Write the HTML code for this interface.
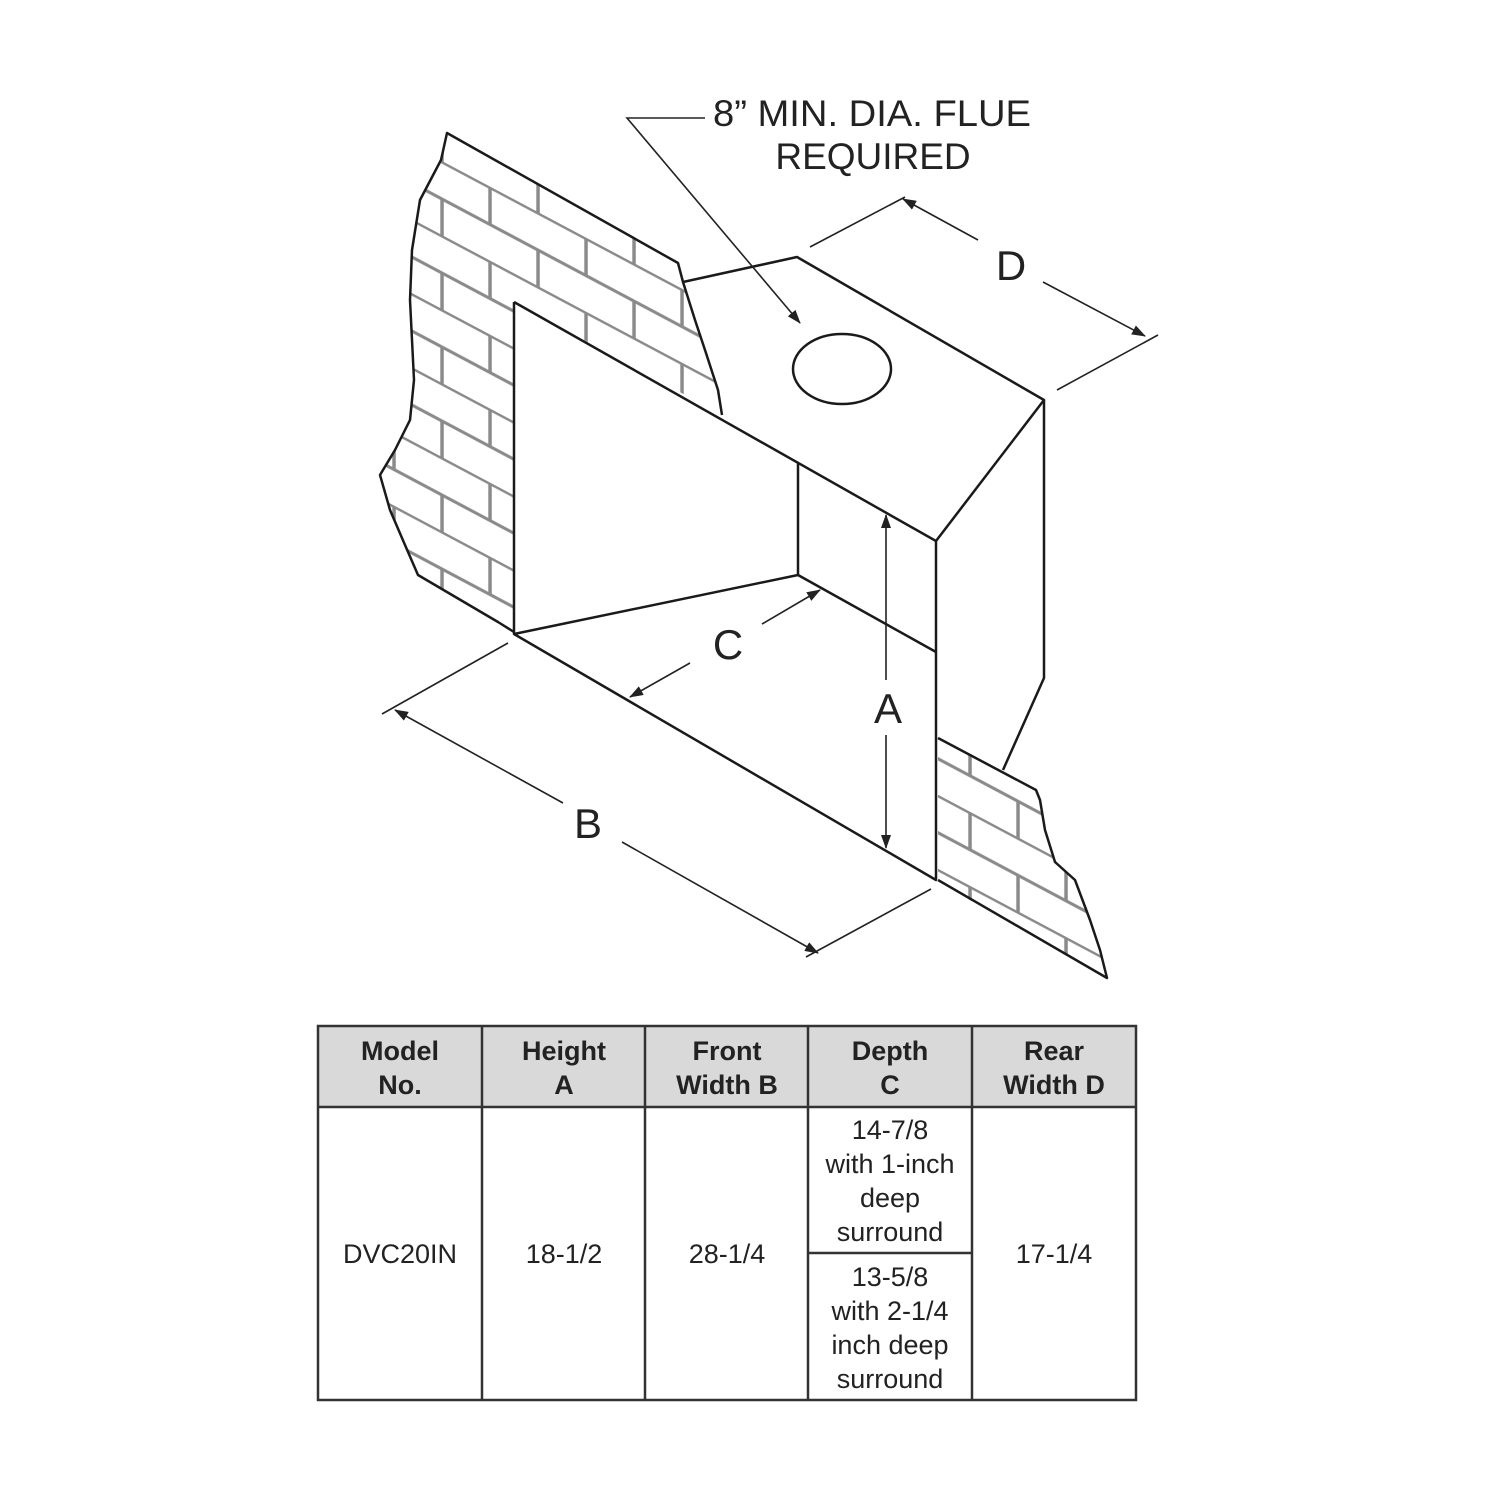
<!DOCTYPE html>
<html><head><style>
body{margin:0;background:#fff;}
svg{display:block}
</style></head><body>
<svg width="1500" height="1500" viewBox="0 0 1500 1500" xmlns="http://www.w3.org/2000/svg">
<defs>
<pattern id="brick" patternUnits="userSpaceOnUse" width="96" height="74" patternTransform="skewY(28)">
<g stroke="#8a8a8a" stroke-width="3.5" fill="none">
<line x1="0" y1="1" x2="96" y2="1"/><line x1="0" y1="38" x2="96" y2="38"/>
<line x1="10" y1="1" x2="10" y2="38"/><line x1="58" y1="38" x2="58" y2="74"/>
</g>
</pattern>
<clipPath id="lw"><path d="M447,133 L678,263 L683,282 L695,320 L705,350 L718,390 L722,415 L514,302 L514,632 L498,622 L418,575 L405,545 L390,510 L380,475 L395,450 L410,420 L414,380 L410,300 L412,250 L420,200 L441,160 Z"/></clipPath>
<clipPath id="rw"><path d="M938,738 L1036,790 L1040,800 L1045,830 L1055,862 L1075,880 L1090,920 L1100,950 L1107,978 L952,890 L938,880 Z"/></clipPath>
<marker id="ar" markerWidth="14" markerHeight="10" refX="13" refY="5" orient="auto" markerUnits="userSpaceOnUse"><path d="M0,0 L14,5 L0,10 Z" fill="#222"/></marker>
</defs>
<rect x="370" y="120" width="370" height="530" fill="url(#brick)" clip-path="url(#lw)"/>
<rect x="930" y="730" width="190" height="260" fill="url(#brick)" clip-path="url(#rw)"/>
<g stroke="#1a1a1a" stroke-width="2.5" fill="none" stroke-linejoin="round">
<path d="M514,632 L498,622 L418,575 L405,545 L390,510 L380,475 L395,450 L410,420 L414,380 L410,300 L412,250 L420,200 L441,160 L447,133 L678,263 L683,282 L695,320 L705,350 L718,390 L722,415"/>
<path d="M683,282 L797,257 L1044,400 L936,541"/>
<path d="M1044,400 L1044,678 L1003,770"/>
<path d="M514,302 L514,634 L936,880 L936,541 L514,302"/>
<path d="M798,463 L798,575 L514,634"/>
<path d="M798,575 L936,652"/>
<path d="M938,738 L1036,790 L1040,800 L1045,830 L1055,862 L1075,880 L1090,920 L1100,950 L1107,978 L938,880"/>
<ellipse cx="842" cy="369" rx="49" ry="35"/>
</g>
<g stroke="#222" stroke-width="1.6" fill="none">
<path d="M705,118 L627,118 L800,323" marker-end="url(#ar)"/>
<line x1="810" y1="247" x2="905" y2="197"/>
<line x1="1057" y1="390" x2="1158" y2="335"/>
<line x1="978" y1="240" x2="903" y2="199" marker-end="url(#ar)"/>
<line x1="1043" y1="282" x2="1145" y2="336" marker-end="url(#ar)"/>
<line x1="382" y1="714" x2="508" y2="643"/>
<line x1="806" y1="957" x2="931" y2="889"/>
<line x1="563" y1="803" x2="395" y2="710" marker-end="url(#ar)"/>
<line x1="622" y1="842" x2="818" y2="953" marker-end="url(#ar)"/>
<line x1="690" y1="663" x2="630" y2="697" marker-end="url(#ar)"/>
<line x1="762" y1="624" x2="820" y2="590" marker-end="url(#ar)"/>
<line x1="886" y1="680" x2="886" y2="515" marker-end="url(#ar)"/>
<line x1="886" y1="735" x2="886" y2="848" marker-end="url(#ar)"/>
</g>
<g font-family="Liberation Sans, sans-serif" fill="#222" text-anchor="middle">
<text x="872" y="126" font-size="37" textLength="318" lengthAdjust="spacingAndGlyphs">8” MIN. DIA. FLUE</text>
<text x="873" y="169" font-size="37">REQUIRED</text>
<text x="1011" y="280" font-size="42">D</text>
<text x="728" y="659" font-size="42">C</text>
<text x="888" y="723" font-size="42">A</text>
<text x="588" y="838" font-size="42">B</text>
</g>
<g font-family="Liberation Sans, sans-serif" fill="#222" text-anchor="middle" font-size="27">
<rect x="318" y="1026" width="818" height="81" fill="#d9d9d9"/>
<g stroke="#333" stroke-width="2.5" fill="none">
<rect x="318" y="1026" width="818" height="374"/>
<line x1="318" y1="1107" x2="1136" y2="1107"/>
<line x1="482" y1="1026" x2="482" y2="1400"/>
<line x1="645" y1="1026" x2="645" y2="1400"/>
<line x1="808" y1="1026" x2="808" y2="1400"/>
<line x1="972" y1="1026" x2="972" y2="1400"/>
<line x1="808" y1="1253" x2="972" y2="1253"/>
</g>
<g font-weight="bold">
<text x="400" y="1060">Model</text><text x="400" y="1094">No.</text>
<text x="564" y="1060">Height</text><text x="564" y="1094">A</text>
<text x="727" y="1060">Front</text><text x="727" y="1094">Width B</text>
<text x="890" y="1060">Depth</text><text x="890" y="1094">C</text>
<text x="1054" y="1060">Rear</text><text x="1054" y="1094">Width D</text>
</g>
<text x="400" y="1263">DVC20IN</text>
<text x="564" y="1263">18-1/2</text>
<text x="727" y="1263">28-1/4</text>
<text x="1054" y="1263">17-1/4</text>
<text x="890" y="1139">14-7/8</text>
<text x="890" y="1173">with 1-inch</text>
<text x="890" y="1207">deep</text>
<text x="890" y="1241">surround</text>
<text x="890" y="1286">13-5/8</text>
<text x="890" y="1320">with 2-1/4</text>
<text x="890" y="1354">inch deep</text>
<text x="890" y="1388">surround</text>
</g>
</svg>
</body></html>
